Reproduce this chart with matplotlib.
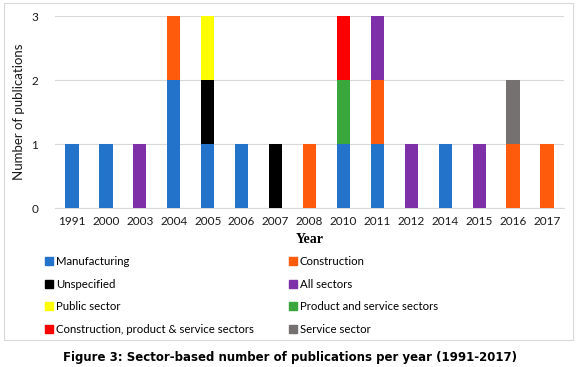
import matplotlib
matplotlib.use('Agg')
import matplotlib.pyplot as plt
import numpy as np
from matplotlib.patches import Rectangle, Patch

# Data
years = ['1991', '2000', '2003', '2004', '2005', '2006', '2007', '2008',
         '2010', '2011', '2012', '2014', '2015', '2016', '2017']
manufacturing = [1, 1, 0, 2, 1, 1, 0, 0, 1, 1, 0, 1, 0, 0, 0]
construction = [0, 0, 0, 1, 0, 0, 0, 1, 0, 1, 0, 0, 0, 1, 1]
unspecified = [0, 0, 0, 0, 1, 0, 1, 0, 0, 0, 0, 0, 0, 0, 0]
all_sectors = [0, 0, 1, 0, 0, 0, 0, 0, 0, 1, 1, 0, 1, 0, 0]
public_sector = [0, 0, 0, 0, 1, 0, 0, 0, 0, 0, 0, 0, 0, 0, 0]
product_service = [0, 0, 0, 0, 0, 0, 0, 0, 1, 0, 0, 0, 0, 0, 0]
constr_prod_serv = [0, 0, 0, 0, 0, 0, 0, 0, 1, 0, 0, 0, 0, 0, 0]
service_sector = [0, 0, 0, 0, 0, 0, 0, 0, 0, 0, 0, 0, 0, 1, 0]

series = [
    ('Manufacturing', manufacturing, '#2273c9'),
    ('Construction', construction, '#ff5b0d'),
    ('Unspecified', unspecified, '#000000'),
    ('All sectors', all_sectors, '#7d30a8'),
    ('Public sector', public_sector, '#ffff00'),
    ('Product and service sectors', product_service, '#3aa73c'),
    ('Construction, product & service sectors', constr_prod_serv, '#ff0000'),
    ('Service sector', service_sector, '#767171'),
]

plt.rcParams['font.family'] = 'Lato'

fig = plt.figure(figsize=(5.8, 3.67), dpi=100)
fig.patches.append(Rectangle((4 / 580, 1 - 340 / 367), 569 / 580, 337 / 367,
                             transform=fig.transFigure, fill=False,
                             edgecolor='#d9d9d9', linewidth=0.8))

ax = fig.add_axes([55 / 580, 1 - 208 / 367, 509 / 580, 192 / 367])
x = np.arange(len(years))
bottom = np.zeros(len(years))
for name, vals, color in series:
    ax.bar(x, vals, bottom=bottom, width=0.39, color=color, label=name, zorder=3)
    bottom += np.array(vals)

ax.set_xlim(-0.5, len(years) - 0.5)
ax.set_ylim(0, 3)
ax.set_yticks([0, 1, 2, 3])
ax.set_xticks(x)
ax.set_xticklabels(years)
ax.tick_params(length=0, labelsize=8.5, colors='#1a1a1a')
ax.tick_params(axis='y', pad=12)
ax.tick_params(axis='x', pad=6)
ax.grid(axis='y', color='#d9d9d9', linewidth=0.8, zorder=0)
for s in ['top', 'right', 'left']:
    ax.spines[s].set_visible(False)
ax.spines['bottom'].set_color('#d9d9d9')
ax.set_ylabel('Number of publications', fontsize=9.5, color='#1a1a1a', labelpad=5)
ax.set_xlabel('Year', fontsize=10, fontweight='bold', family='Liberation Serif', labelpad=4)

# legend laid out row-wise in two columns
left = [series[i] for i in (0, 2, 4, 6)]
right = [series[i] for i in (1, 3, 5, 7)]
for grp, xpos in ((left, 45 / 580), (right, 289 / 580)):
    handles = [Patch(color=c, label=n) for n, v, c in grp]
    fig.legend(handles=handles, loc='upper left', bbox_to_anchor=(xpos, 1 - 256 / 367),
               frameon=False, fontsize=8.2, handlelength=0.7, handleheight=0.7,
               handletextpad=0.25, labelspacing=1.02, borderaxespad=0, borderpad=0)

fig.text(0.5, 1 - 357 / 367, 'Figure 3: Sector-based number of publications per year (1991-2017)',
         ha='center', va='center', fontsize=8.5, fontweight='bold', family='DejaVu Sans')

fig.savefig('out.png', dpi=100)
